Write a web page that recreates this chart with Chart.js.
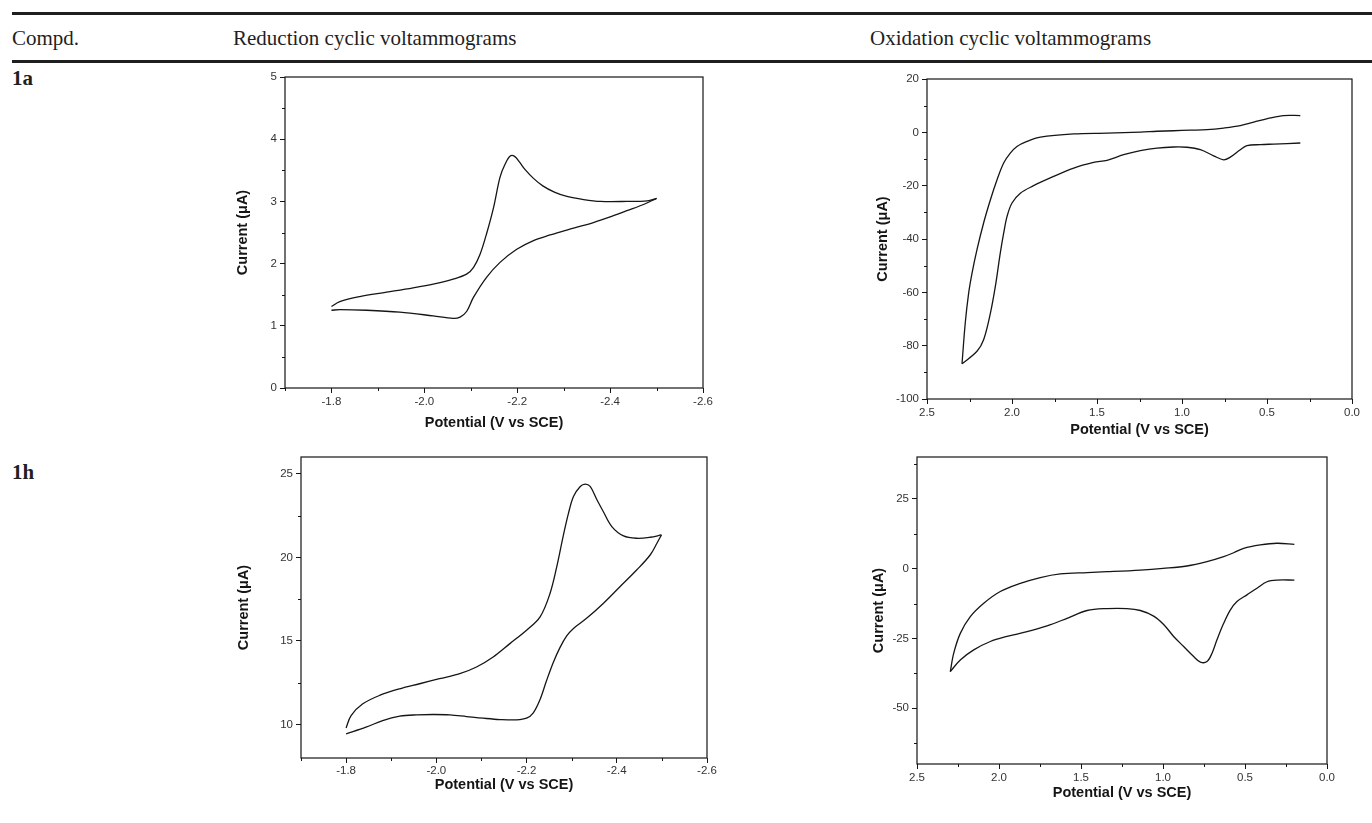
<!DOCTYPE html>
<html>
<head>
<meta charset="utf-8">
<script src="https://cdn.jsdelivr.net/npm/chart.js@4.4.1/dist/chart.umd.min.js"></script>
<style>
  body { margin:0; background:#fff; width:1372px; height:823px; position:relative; overflow:hidden;
         font-family:"Liberation Serif","Times New Roman",serif; color:#1f1f1f; }
  .rule { position:absolute; left:12px; width:1360px; height:2.5px; background:#1f1f1f; }
  .txt { position:absolute; font-size:21px; line-height:21px; white-space:nowrap; }
  .cmp { font-weight:bold; }
  canvas { position:absolute; }
</style>
</head>
<body>
<div class="rule" style="top:12px"></div>
<div class="txt" style="left:12px;top:28px">Compd.</div>
<div class="txt" style="left:233px;top:28px">Reduction cyclic voltammograms</div>
<div class="txt" style="left:870px;top:28px">Oxidation cyclic voltammograms</div>
<div class="rule" style="top:60px"></div>
<div class="txt cmp" style="left:12px;top:68px">1a</div>
<div class="txt cmp" style="left:12px;top:462px">1h</div>

<canvas id="red1a" width="490" height="368" style="left:225px;top:67px"></canvas>
<canvas id="ox1a" width="499" height="376" style="left:865px;top:69px"></canvas>
<canvas id="red1h" width="494" height="351" style="left:225px;top:447px"></canvas>
<canvas id="ox1h" width="479" height="357" style="left:860px;top:447px"></canvas>

<script>
// 1a reduction: forward (to -2.5 V) and return scan
const red1aFwdE = [-1.800,-1.818,-1.861,-1.919,-1.976,-2.019,-2.062,-2.091,-2.106,-2.120,-2.134,-2.149,-2.163,-2.174,-2.185,-2.195,-2.205,-2.217,-2.235,-2.255,-2.280,-2.307,-2.343,-2.379,-2.436,-2.480,-2.500];
const red1aFwdI = [1.31,1.39,1.47,1.54,1.61,1.67,1.75,1.83,1.94,2.15,2.48,2.90,3.39,3.60,3.73,3.72,3.63,3.51,3.37,3.25,3.15,3.08,3.03,3.00,3.00,3.01,3.05];
const red1aRevE = [-2.500,-2.472,-2.436,-2.400,-2.364,-2.307,-2.271,-2.235,-2.199,-2.163,-2.134,-2.106,-2.091,-2.077,-2.062,-2.019,-1.947,-1.876,-1.818,-1.800];
const red1aRevI = [3.05,2.95,2.85,2.75,2.66,2.54,2.46,2.37,2.23,2.02,1.78,1.46,1.23,1.14,1.12,1.16,1.22,1.25,1.26,1.25];
const red1aXTicks = [-1.8,-2.0,-2.2,-2.4,-2.6];
const red1aYTicks = [0,1,2,3,4,5];

// 1a oxidation
const ox1aFwdE = [0.304,0.461,0.539,0.618,0.657,0.716,0.755,0.814,0.892,0.971,1.049,1.147,1.245,1.343,1.441,1.520,1.637,1.775,1.873,1.951,2.000,2.029,2.049,2.069,2.098,2.127,2.167,2.206,2.294];
const ox1aFwdI = [-4.0,-4.4,-4.6,-5.0,-6.5,-9.3,-10.3,-8.8,-6.5,-5.6,-5.5,-5.9,-6.9,-8.4,-10.5,-11.3,-13.4,-17.1,-20.0,-22.8,-26.5,-31.5,-37.8,-45.3,-57.8,-67.8,-77.8,-82.1,-86.8];
const ox1aRevE = [2.294,2.275,2.255,2.235,2.206,2.167,2.127,2.088,2.049,2.010,1.971,1.912,1.833,1.637,1.441,1.245,1.147,1.049,0.951,0.853,0.755,0.657,0.578,0.480,0.402,0.304];
const ox1aRevI = [-86.8,-71.5,-60.3,-52.8,-44.0,-34.0,-25.3,-17.8,-11.5,-7.8,-5.3,-3.4,-1.8,-0.6,-0.3,0.1,0.4,0.6,0.8,1.0,1.6,2.5,3.8,5.4,6.3,6.3];
const ox1aXTicks = [2.5,2.0,1.5,1.0,0.5,0.0];
const ox1aYTicks = [-100,-80,-60,-40,-20,0,20];

// 1h reduction
const red1hFwdE = [-1.800,-1.811,-1.837,-1.874,-1.919,-1.963,-2.007,-2.052,-2.089,-2.126,-2.163,-2.200,-2.230,-2.252,-2.267,-2.281,-2.293,-2.304,-2.319,-2.330,-2.341,-2.356,-2.370,-2.389,-2.415,-2.444,-2.474,-2.499];
const red1hFwdI = [9.8,10.54,11.24,11.74,12.14,12.44,12.74,13.04,13.44,14.04,14.84,15.64,16.44,17.84,19.44,21.24,22.64,23.64,24.24,24.38,24.24,23.44,22.74,21.84,21.28,21.14,21.2,21.34];
const red1hRevE = [-2.499,-2.489,-2.474,-2.444,-2.407,-2.370,-2.333,-2.304,-2.289,-2.274,-2.259,-2.244,-2.230,-2.215,-2.200,-2.178,-2.141,-2.104,-2.067,-2.030,-1.993,-1.956,-1.919,-1.881,-1.844,-1.800];
const red1hRevI = [21.34,20.84,20.14,19.24,18.24,17.24,16.35,15.75,15.3,14.6,13.7,12.6,11.5,10.7,10.38,10.28,10.30,10.38,10.48,10.58,10.60,10.58,10.50,10.24,9.84,9.44];
const red1hXTicks = [-1.8,-2.0,-2.2,-2.4,-2.6];
const red1hYTicks = [10,15,20,25];

// 1h oxidation
const ox1hFwdE = [0.199,0.305,0.366,0.427,0.488,0.549,0.589,0.630,0.671,0.701,0.732,0.772,0.813,0.874,0.935,0.996,1.057,1.138,1.220,1.341,1.463,1.585,1.707,1.829,1.951,2.053,2.154,2.236,2.297];
const ox1hFwdI = [-4.1,-4.1,-4.7,-7.0,-9.4,-11.8,-14.8,-19.6,-25.5,-30.3,-33.3,-33.5,-31.5,-27.9,-24.3,-20.0,-17.0,-15.0,-14.3,-14.3,-15.0,-17.8,-20.5,-22.6,-24.3,-26.1,-29.1,-32.7,-36.9];
const ox1hRevE = [2.297,2.276,2.236,2.175,2.093,1.992,1.870,1.748,1.626,1.463,1.341,1.138,1.000,0.854,0.732,0.630,0.569,0.508,0.407,0.305,0.199];
const ox1hRevI = [-36.9,-30.3,-23.2,-17.2,-12.4,-8.2,-5.3,-3.2,-1.9,-1.4,-1.1,-0.5,0.1,0.95,2.5,4.3,5.7,7.3,8.5,9.1,8.7];
const ox1hXTicks = [2.5,2.0,1.5,1.0,0.5,0.0];
const ox1hYTicks = [-50,-25,0,25];

const sansFont = "'Liberation Sans', Arial, sans-serif";
const inkColor = '#151515';

// box around the plot + short minor ticks between the labelled ones
const frameAndMinor = {
  id: 'frameAndMinor',
  afterDraw(chart, args, opts) {
    const {ctx, chartArea: a, scales} = chart;
    ctx.save();
    ctx.strokeStyle = inkColor;
    ctx.lineWidth = 1.2;
    ctx.strokeRect(a.left, a.top, a.right - a.left, a.bottom - a.top);
    ctx.lineWidth = 1;
    ctx.beginPath();
    const near = (list, v) => list.some(t => Math.abs(t - v) < 1e-6);
    const xs = scales.x, ys = scales.y;
    for (let k = Math.ceil(xs.min / opts.xStep - 1e-9); k <= Math.floor(xs.max / opts.xStep + 1e-9); k++) {
      const v = k * opts.xStep;
      if (near(opts.xMajor, v)) continue;
      const px = Math.round(xs.getPixelForValue(v)) + 0.5;
      ctx.moveTo(px, a.bottom);
      ctx.lineTo(px, a.bottom + 3);
    }
    for (let k = Math.ceil(ys.min / opts.yStep - 1e-9); k <= Math.floor(ys.max / opts.yStep + 1e-9); k++) {
      const v = k * opts.yStep;
      if (near(opts.yMajor, v)) continue;
      const py = Math.round(ys.getPixelForValue(v)) + 0.5;
      ctx.moveTo(a.left, py);
      ctx.lineTo(a.left - 3, py);
    }
    ctx.stroke();
    ctx.restore();
  }
};

function pts(E, I) {
  return E.map((e, i) => ({x: e, y: I[i]}));
}

function drawCV(id, c) {
  const branch = (E, I) => ({
    data: pts(E, I), showLine: true, borderColor: inkColor, borderWidth: 1.3,
    pointRadius: 0, tension: 0.35, fill: false
  });
  return new Chart(document.getElementById(id), {
    type: 'scatter',
    data: { datasets: [branch(c.fwdE, c.fwdI), branch(c.revE, c.revI)] },
    options: {
      responsive: false,
      animation: false,
      layout: { padding: { top: 10, right: 12, left: 0, bottom: 0 } },
      plugins: {
        legend: { display: false },
        tooltip: { enabled: false },
        frameAndMinor: { xStep: c.xStep, yStep: c.yStep, xMajor: c.xTicks, yMajor: c.yTicks }
      },
      scales: {
        x: {
          type: 'linear', reverse: true, min: c.xMin, max: c.xMax,
          afterBuildTicks: s => { s.ticks = c.xTicks.map(v => ({value: v})); },
          afterFit: s => { s.height = c.xH; },
          grid: { drawOnChartArea: false, color: inkColor, tickLength: 5 },
          border: { display: false },
          ticks: { color: '#333', font: { family: sansFont, size: 11.5 }, padding: c.xTickPad,
                   maxRotation: 0, autoSkip: false, callback: v => v.toFixed(1) },
          title: { display: true, text: 'Potential (V vs SCE)', color: inkColor,
                   font: { family: sansFont, size: 14.5, weight: 'bold' },
                   padding: { top: 0, bottom: c.xTitlePad } }
        },
        y: {
          type: 'linear', min: c.yMin, max: c.yMax,
          afterBuildTicks: s => { s.ticks = c.yTicks.map(v => ({value: v})); },
          afterFit: s => { s.width = c.yW; },
          grid: { drawOnChartArea: false, color: inkColor, tickLength: 5 },
          border: { display: false },
          ticks: { color: '#333', font: { family: sansFont, size: 11.5 }, padding: 3,
                   autoSkip: false, callback: v => String(v) },
          title: { display: true, text: 'Current (\u03bcA)', color: inkColor,
                   font: { family: sansFont, size: 14.5, weight: 'bold' },
                   padding: { top: c.yTitlePad, bottom: 0 } }
        }
      }
    },
    plugins: [frameAndMinor]
  });
}

drawCV('red1a', { fwdE: red1aFwdE, fwdI: red1aFwdI, revE: red1aRevE, revI: red1aRevI,
  xMin: -2.6, xMax: -1.7, yMin: 0, yMax: 5, xTicks: red1aXTicks, yTicks: red1aYTicks,
  xStep: 0.1, yStep: 0.5, xH: 47, yW: 60, xTickPad: 2, xTitlePad: 3.3, yTitlePad: 9.6 });

drawCV('ox1a', { fwdE: ox1aFwdE, fwdI: ox1aFwdI, revE: ox1aRevE, revI: ox1aRevI,
  xMin: 0, xMax: 2.5, yMin: -100, yMax: 20, xTicks: ox1aXTicks, yTicks: ox1aYTicks,
  xStep: 0.25, yStep: 10, xH: 46, yW: 62, xTickPad: 2, xTitlePad: 6.3, yTitlePad: 9.6 });

drawCV('red1h', { fwdE: red1hFwdE, fwdI: red1hFwdI, revE: red1hRevE, revI: red1hRevI,
  xMin: -2.6, xMax: -1.7, yMin: 8, yMax: 26, xTicks: red1hXTicks, yTicks: red1hYTicks,
  xStep: 0.1, yStep: 2.5, xH: 40, yW: 76, xTickPad: 1, xTitlePad: 4.8, yTitlePad: 10.6 });

drawCV('ox1h', { fwdE: ox1hFwdE, fwdI: ox1hFwdI, revE: ox1hRevE, revI: ox1hRevI,
  xMin: 0, xMax: 2.5, yMin: -70, yMax: 40, xTicks: ox1hXTicks, yTicks: ox1hYTicks,
  xStep: 0.25, yStep: 12.5, xH: 40, yW: 57, xTickPad: 2, xTitlePad: 2.3, yTitlePad: 10.6 });
</script>
</body>
</html>
